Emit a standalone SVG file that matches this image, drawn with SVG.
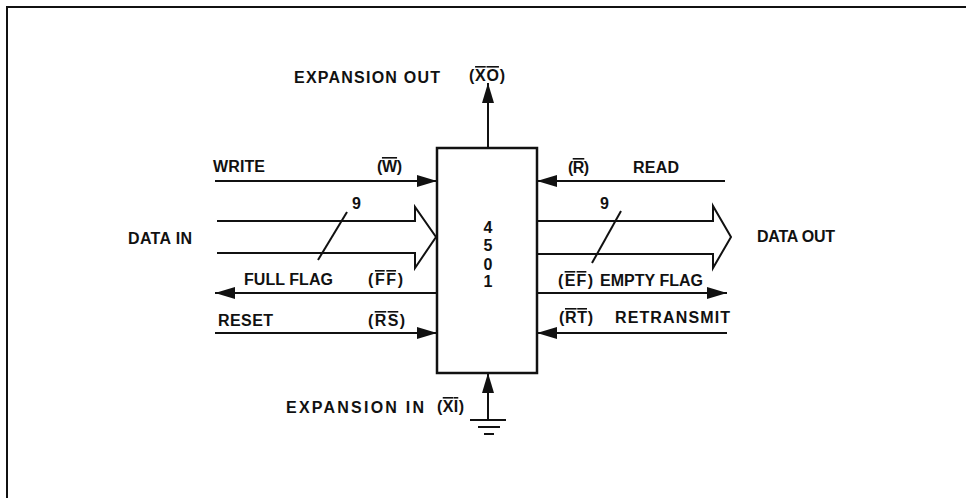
<svg xmlns="http://www.w3.org/2000/svg" width="966" height="498" viewBox="0 0 966 498">
<style>
text{font-family:"Liberation Sans",Arial,sans-serif;font-weight:bold;font-size:16px;fill:#111}
.ol{text-decoration:overline}
.ln{stroke:#111;stroke-width:2;fill:none}
.box{stroke:#111;stroke-width:2.5;fill:#fff}
</style>
<defs>
<marker id="ah" markerUnits="userSpaceOnUse" markerWidth="20" markerHeight="12" refX="20" refY="6" orient="auto">
<path d="M0,0 L20,6 L0,12 z" fill="#111"/>
</marker>
</defs>
<path class="ln" d="M7,498 V7 H966"/>
<g id="connectors">
<path class="ln" d="M488,148 V83" marker-end="url(#ah)"/>
<path class="ln" d="M215,181 H437" marker-end="url(#ah)"/>
<path class="ln" d="M725,181 H537" marker-end="url(#ah)"/>
<path class="ln" d="M437,293 H215" marker-end="url(#ah)"/>
<path class="ln" d="M215,333 H437" marker-end="url(#ah)"/>
<path class="ln" d="M537,293 H727" marker-end="url(#ah)"/>
<path class="ln" d="M727,333 H537" marker-end="url(#ah)"/>
<path class="ln" d="M488,420 V373" marker-end="url(#ah)"/>
<path class="ln" d="M217,221 H415 V207 L436,237 L415,268 V253 H217"/>
<path class="ln" d="M537,221 H713 V206 L731,237 L713,268 V254 H537"/>
<path class="ln" d="M318,260 L347,212"/>
<path class="ln" d="M592,263 L621,211"/>
<path class="ln" d="M470,420 H506 M478,427 H500 M484,434 H494"/>
</g>
<g id="chip">
<rect class="box" x="437" y="148" width="100" height="225"/>
<text x="488" y="233" text-anchor="middle">4</text>
<text x="488" y="251" text-anchor="middle">5</text>
<text x="488" y="270" text-anchor="middle">0</text>
<text x="488" y="287" text-anchor="middle">1</text>
</g>
<g id="labels">
<text x="294" y="83" textLength="146" lengthAdjust="spacing">EXPANSION OUT</text>
<text x="469" y="81" textLength="36" lengthAdjust="spacing">(<tspan class="ol">XO</tspan>)</text>
<text x="213" y="172" textLength="52" lengthAdjust="spacing">WRITE</text>
<text x="377" y="172" textLength="25" lengthAdjust="spacing">(<tspan class="ol">W</tspan>)</text>
<text x="568" y="173" textLength="21" lengthAdjust="spacing">(<tspan class="ol">R</tspan>)</text>
<text x="633" y="173" textLength="46" lengthAdjust="spacing">READ</text>
<text x="128" y="244" textLength="64" lengthAdjust="spacing">DATA IN</text>
<text x="352" y="209">9</text>
<text x="600" y="209">9</text>
<text x="757" y="242" textLength="78" lengthAdjust="spacing">DATA OUT</text>
<text x="244" y="285" textLength="89" lengthAdjust="spacing">FULL FLAG</text>
<text x="368" y="285" textLength="35" lengthAdjust="spacing">(<tspan class="ol">FF</tspan>)</text>
<text x="558" y="286" textLength="35" lengthAdjust="spacing">(<tspan class="ol">EF</tspan>)</text>
<text x="600" y="286" textLength="103" lengthAdjust="spacing">EMPTY FLAG</text>
<text x="218" y="326" textLength="55" lengthAdjust="spacing">RESET</text>
<text x="368" y="326" textLength="37" lengthAdjust="spacing">(<tspan class="ol">RS</tspan>)</text>
<text x="559" y="323" textLength="34" lengthAdjust="spacing">(<tspan class="ol">RT</tspan>)</text>
<text x="615" y="323" textLength="115" lengthAdjust="spacing">RETRANSMIT</text>
<text x="286" y="413" textLength="138" lengthAdjust="spacing">EXPANSION IN</text>
<text x="437" y="412" textLength="27" lengthAdjust="spacing">(<tspan class="ol">XI</tspan>)</text>
</g>
</svg>
